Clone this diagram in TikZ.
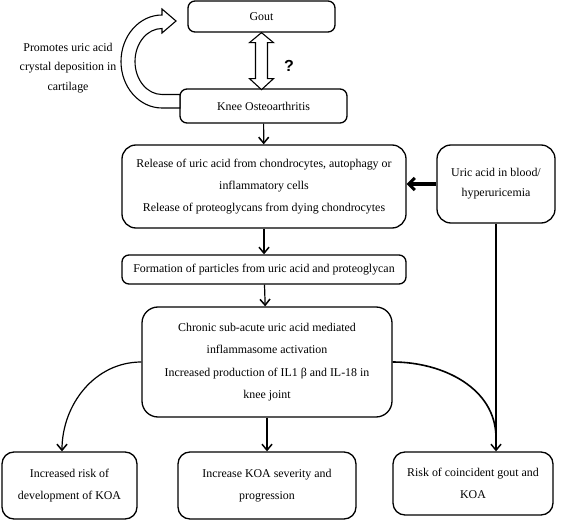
\documentclass[tikz,border=0pt]{standalone}
\usepackage{fontspec}
\setmainfont{Liberation Serif}
\setsansfont{Liberation Sans}
\newfontfamily\boxfont{Liberation Serif}
\usetikzlibrary{arrows.meta}

\begin{document}
\begin{tikzpicture}[x=1pt,y=-1pt,
    box/.style={draw, line width=1.3pt, rounded corners=7pt, align=center,
        inner sep=0pt, font=\boxfont\fontsize{11.9}{22}\selectfont},
    bigbox/.style={box, rounded corners=14pt},
    flow/.style={line width=1.2pt, -{Straight Barb[length=6pt,width=10pt,line width=1.5pt]}}]
    \useasboundingbox (0,0) rectangle (567,521);

    % Gout and knee OA
    \node[box, minimum width=147pt, minimum height=31pt] (gout) at (261.5,16.5) {Gout};
    \node[box, minimum width=167pt, minimum height=34pt] (knee) at (263.5,106) {Knee Osteoarthritis};
    \node[align=center, font=\boxfont\fontsize{11.9}{19.5}\selectfont] (promotes) at (68,68)
        {Promotes uric acid\\ crystal deposition in\\ cartilage};
    \node[font=\sffamily\bfseries\fontsize{16}{16}\selectfont] (quest) at (289,66) {?};

    % Hollow arrows
    \draw[line width=1.1pt, fill=white] (gout.south) -- ++(12,10) -- ++(-6,0) -- ++(0,36)
        -- ++(6,0) -- ++(-12,11) -- ++(-12,-11) -- ++(6,0) -- ++(0,-36) -- ++(-6,0) -- cycle;
    \draw[line width=1.1pt, fill=white] (180,108) -- (162,108)
        arc[start angle=90, end angle=270, x radius=41, y radius=46.5]
        -- (162,9) -- (176,21) -- (162,33) -- (162,28.5)
        arc[start angle=270, end angle=90, x radius=27, y radius=33]
        -- (180,94.5) -- cycle;

    % Middle boxes
    \node[box, bigbox, minimum width=284pt, minimum height=83pt, font=\boxfont\fontsize{11.9}{21.6}\selectfont]
        (release) at (264,186.5)
        {Release of uric acid from chondrocytes, autophagy or\\ inflammatory cells\\
         Release of proteoglycans from dying chondrocytes};
    \node[box, bigbox, minimum width=118pt, minimum height=78pt, font=\boxfont\fontsize{11.9}{20}\selectfont]
        (uric) at (496,184) {Uric acid in blood/\\ hyperuricemia};
    \node[box, minimum width=284pt, minimum height=29pt] (particles) at (264,269.5)
        {Formation of particles from uric acid and proteoglycan};
    \node[box, bigbox, rounded corners=16pt, minimum width=250pt, minimum height=110pt,
        font=\boxfont\fontsize{11.9}{22.3}\selectfont]
        (chronic) at (267,362)
        {Chronic sub-acute uric acid mediated\\ inflammasome activation\\
         Increased production of IL1 β and IL-18 in\\ knee joint};

    % Outcomes
    \node[box, rounded corners=12pt, minimum width=135pt, minimum height=67pt]
        (riskkoa) at (69.5,485.5) {Increased risk of\\ development of KOA};
    \node[box, rounded corners=12pt, minimum width=178pt, minimum height=67pt]
        (severity) at (267,485.5) {Increase KOA severity and\\ progression};
    \node[box, rounded corners=12pt, minimum width=160pt, minimum height=63pt]
        (coincident) at (473,483.5) {Risk of coincident gout and\\ KOA};

    % Connectors
    \draw[flow] (knee) -- (release);
    \draw[flow] (release) -- (particles);
    \draw[flow] (particles) -- (chronic);
    \draw[line width=3.4pt, -{Straight Barb[length=6pt,width=12pt,line width=3pt]}]
        (uric.west) -- (uric.west -| release.east);
    \draw[flow] (chronic.south) -- (severity.north);
    \draw[flow] (chronic.west) to[out=180, in=90] (riskkoa.north -| 62,0);
    \coordinate (join) at (uric.south |- 0,438);
    \draw[line width=1.6pt] (chronic.east) to[out=0, in=90] (join);
    \draw[flow, line width=2pt] (uric.south) -- (uric.south |- coincident.north);
\end{tikzpicture}
\end{document}
